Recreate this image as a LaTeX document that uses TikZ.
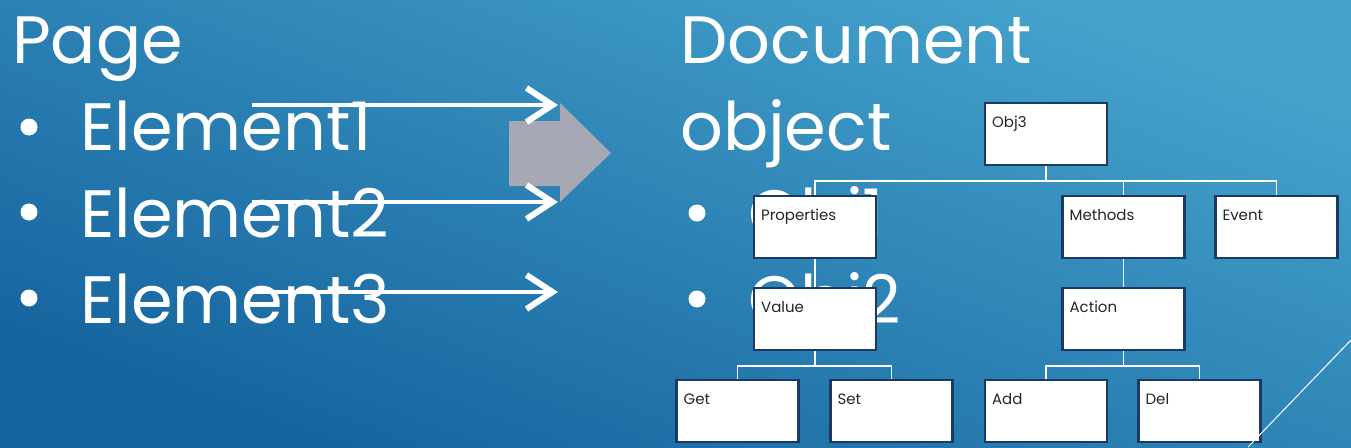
\documentclass[tikz,border=0pt]{standalone}
\usepackage{fontspec}
\setmainfont{Poppins}
\usetikzlibrary{arrows.meta}
\definecolor{bgtop}{HTML}{45A3CC}
\definecolor{bgbot}{HTML}{15639E}
\definecolor{boxline}{HTML}{1A3A63}
\definecolor{blockgray}{HTML}{A6A8B3}
\begin{document}
\begin{tikzpicture}[x=1pt,y=-1pt,
  big/.style = {text=white, inner sep=0pt, anchor=base west, font=\fontsize{67}{67}\selectfont},
  dot/.style = {circle, fill=white, inner sep=0pt, minimum size=17pt},
  obj/.style = {draw=boxline, line width=2.2pt, fill=white, minimum width=122pt, minimum height=62pt, inner sep=0pt},
  lbl/.style = {text=black!85, inner sep=0pt, anchor=base west, font=\fontsize{15}{15}\selectfont},
  link/.style = {draw=white, line width=1.8pt},
  pointer/.style = {draw=white, line width=4.5pt, -{Straight Barb[length=26pt, width=34pt, line width'=6pt]}}]
\useasboundingbox (0,0) rectangle (1351,447);
\shade[top color=bgtop, bottom color=bgbot, shading angle=-20] (0,0) rectangle (1351,447);
% left column
\node[big](page) at (12,63) {Page};
\node[dot](b1) at (29,127) {}; \node[dot](b2) at (29,212) {}; \node[dot](b3) at (29,298) {};
\node[big](e1) at (80,150) {Element1}; \node[big](e2) at (80,237) {Element2}; \node[big](e3) at (80,323) {Element3};
% right column
\node[big](doc) at (680,63) {Document}; \node[big](object) at (680,150) {object};
\node[dot](b4) at (697,213) {}; \node[dot](b5) at (697,299) {};
\node[big](o1) at (748,237) {Obj1}; \node[big](o2) at (748,323) {Obj2};
% arrows
\coordinate (s1) at (252,105); \coordinate (t1) at (558,105);
\coordinate (s2) at (252,202); \coordinate (t2) at (558,202);
\coordinate (s3) at (252,292); \coordinate (t3) at (558,292);
\fill[blockgray] (509,121) -- (560,121) -- (560,103) -- (611,153) -- (560,202) -- (560,186) -- (509,186) -- cycle;
\draw[pointer] (s1) -- (t1); \draw[pointer] (s2) -- (t2); \draw[pointer] (s3) -- (t3);
% tree
\node[obj](obj3) at (1046,134) {};
\node[obj](prop) at (815,227) {}; \node[obj](meth) at (1123.5,227) {}; \node[obj](event) at (1276.5,227) {};
\node[obj](value) at (815,319) {}; \node[obj](action) at (1123.5,319) {};
\node[obj](get) at (737.5,411) {}; \node[obj](set) at (891.5,411) {}; \node[obj](add) at (1046,411) {}; \node[obj](del) at (1199.5,411) {};
\draw[link] (obj3.south) -- ++(0,15) -| (prop.north); \draw[link] (obj3.south) -- ++(0,15) -| (meth.north); \draw[link] (obj3.south) -- ++(0,15) -| (event.north);
\draw[link] (prop.south) -- (value.north); \draw[link] (meth.south) -- (action.north);
\draw[link] (value.south) -- ++(0,15) -| (get.north); \draw[link] (value.south) -- ++(0,15) -| (set.north);
\draw[link] (action.south) -- ++(0,15) -| (add.north); \draw[link] (action.south) -- ++(0,15) -| (del.north);
\node[lbl](l0) at ([shift={(8,26)}]obj3.north west) {Obj3};
\node[lbl](l1) at ([shift={(8,26)}]prop.north west) {Properties}; \node[lbl](l2) at ([shift={(8,26)}]meth.north west) {Methods}; \node[lbl](l3) at ([shift={(8,26)}]event.north west) {Event};
\node[lbl](l4) at ([shift={(8,26)}]value.north west) {Value}; \node[lbl](l5) at ([shift={(8,26)}]action.north west) {Action};
\node[lbl](l6) at ([shift={(8,26)}]get.north west) {Get}; \node[lbl](l7) at ([shift={(8,26)}]set.north west) {Set}; \node[lbl](l8) at ([shift={(8,26)}]add.north west) {Add}; \node[lbl](l9) at ([shift={(8,26)}]del.north west) {Del};
% corner line
\coordinate (c1) at (1351,340); \coordinate (c2) at (1248,447);
\draw[white, line width=1pt] (c1) -- (c2);
\end{tikzpicture}
\end{document}
